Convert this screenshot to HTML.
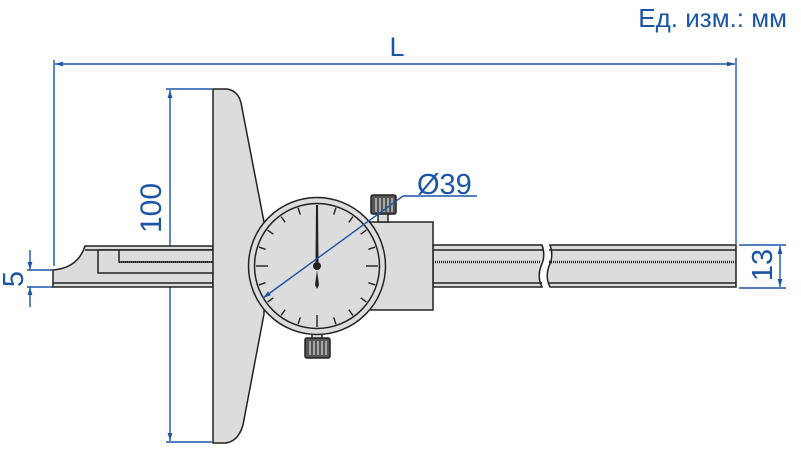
<!DOCTYPE html>
<html><head><meta charset="utf-8"><style>html,body{margin:0;padding:0;background:#fff;}svg{display:block}</style></head>
<body>
<svg width="801" height="465" viewBox="0 0 801 465" xmlns="http://www.w3.org/2000/svg" font-family="Liberation Sans, sans-serif">
<defs>
<marker id="a" viewBox="0 0 10 6" refX="10" refY="3" markerWidth="8" markerHeight="5" orient="auto-start-reverse" markerUnits="userSpaceOnUse"><path d="M0,0L10,3L0,6z" fill="#1a55a8"/></marker>
</defs>
<text x="787" y="27" text-anchor="end" font-size="26" fill="#1a55a8">Ед. изм.: мм</text>
<g stroke="#1a55a8" stroke-width="1.4" fill="none">
<line x1="54" y1="60" x2="54" y2="266"/>
<line x1="736" y1="58" x2="736" y2="244"/>
<line x1="55" y1="64" x2="735" y2="64" marker-start="url(#a)" marker-end="url(#a)"/>
<line x1="166" y1="89" x2="212" y2="89"/>
<line x1="166" y1="442" x2="212" y2="442"/>
<line x1="170" y1="90" x2="170" y2="441" marker-start="url(#a)" marker-end="url(#a)"/>
<line x1="27" y1="270" x2="53" y2="270"/>
<line x1="27" y1="287" x2="53" y2="287"/>
<line x1="30" y1="250" x2="30" y2="270" marker-end="url(#a)"/>
<line x1="30" y1="307" x2="30" y2="287" marker-end="url(#a)"/>
<line x1="739" y1="245" x2="786" y2="245"/>
<line x1="739" y1="288" x2="786" y2="288"/>
<line x1="780" y1="246" x2="780" y2="287" marker-start="url(#a)" marker-end="url(#a)"/>
</g>
<text x="397" y="56" text-anchor="middle" font-size="27" fill="#1a55a8">L</text>
<text transform="translate(161,208) rotate(-90)" text-anchor="middle" font-size="30" fill="#1a55a8">100</text>
<text transform="translate(23,279) rotate(-90)" text-anchor="middle" font-size="29" fill="#1a55a8">5</text>
<text transform="translate(772,265) rotate(-90)" text-anchor="middle" font-size="29" fill="#1a55a8">13</text>
<g stroke="#222" stroke-width="1.5" fill="#dcdcdc">
<path d="M53,270 Q78,268 85,246 L213,246 L213,287 L53,287 Z"/>
<line x1="85" y1="250" x2="213" y2="250" fill="none"/>
<line x1="53" y1="283" x2="213" y2="283" fill="none"/>
<rect x="98" y="250" width="123" height="23"/>
<rect x="119" y="250" width="102" height="12"/>
<line x1="119" y1="262" x2="213" y2="262" stroke-dasharray="1 1" stroke-width="2" fill="none"/>
<path d="M433,245 L542,245 Q546,256 541,266 Q537,277 542,287 L433,287 Z"/>
<path d="M550,245 L736,245 L736,287 L550,287 Q545,277 549,266 Q554,256 550,245 Z"/>
<g fill="none">
<line x1="433" y1="250" x2="544" y2="250"/><line x1="433" y1="283" x2="542" y2="283"/>
<line x1="549" y1="250" x2="736" y2="250"/><line x1="549" y1="283" x2="736" y2="283"/>
<line x1="433" y1="262" x2="541" y2="262" stroke-dasharray="1 1" stroke-width="2.5"/>
<line x1="549" y1="262" x2="736" y2="262" stroke-dasharray="1 1" stroke-width="2.5"/>
</g>
<path d="M213,89 L227,89 Q240,91 242,108 L264,222 L264,314 L243,425 Q238,442 225,443 L213,443 Z"/>
<rect x="365" y="222" width="68" height="88"/>
<rect x="378" y="213" width="10" height="9"/>
<rect x="371" y="195" width="25" height="19" rx="2" fill="#555"/>
<rect x="312" y="330" width="10" height="9"/>
<rect x="305" y="338" width="25" height="20" rx="2" fill="#555"/>
</g>
<g stroke="#ddd" stroke-width="1.2">
<line x1="376" y1="198" x2="376" y2="212"/><line x1="380" y1="198" x2="380" y2="212"/><line x1="384" y1="198" x2="384" y2="212"/><line x1="388" y1="198" x2="388" y2="212"/><line x1="392" y1="198" x2="392" y2="212"/>
<line x1="310" y1="341" x2="310" y2="355"/><line x1="314" y1="341" x2="314" y2="355"/><line x1="318" y1="341" x2="318" y2="355"/><line x1="322" y1="341" x2="322" y2="355"/><line x1="326" y1="341" x2="326" y2="355"/>
</g>
<circle cx="317" cy="266" r="68.5" fill="#dcdcdc" stroke="#222" stroke-width="1.5"/>
<circle cx="317" cy="266" r="62.5" fill="#dcdcdc" stroke="#222" stroke-width="1.5"/>
<g stroke="#222" stroke-width="1.4">
<line x1="317" y1="205" x2="317" y2="217"/><line x1="317" y1="327" x2="317" y2="315"/>
<line x1="256" y1="266" x2="268" y2="266"/><line x1="378" y1="266" x2="366" y2="266"/>
<line x1="335.9" y1="207.9" x2="333.7" y2="214.6"/><line x1="298.1" y1="207.9" x2="300.3" y2="214.6"/>
<line x1="352.9" y1="216.6" x2="348.8" y2="222.3"/><line x1="281.1" y1="216.6" x2="285.2" y2="222.3"/>
<line x1="366.4" y1="230.1" x2="360.7" y2="234.2"/><line x1="267.6" y1="230.1" x2="273.3" y2="234.2"/>
<line x1="375.1" y1="247.1" x2="368.4" y2="249.3"/><line x1="258.9" y1="247.1" x2="265.6" y2="249.3"/>
<line x1="375.1" y1="284.9" x2="368.4" y2="282.7"/><line x1="258.9" y1="284.9" x2="265.6" y2="282.7"/>
<line x1="366.4" y1="301.9" x2="360.7" y2="297.8"/><line x1="267.6" y1="301.9" x2="273.3" y2="297.8"/>
<line x1="352.9" y1="315.4" x2="348.8" y2="309.7"/><line x1="281.1" y1="315.4" x2="285.2" y2="309.7"/>
<line x1="335.9" y1="324.1" x2="333.7" y2="317.4"/><line x1="298.1" y1="324.1" x2="300.3" y2="317.4"/>
</g>
<path d="M316,205 L318,205 L318.5,262 L315.5,262 Z" fill="#222"/>
<path d="M317,270 L319,285 L317,289 L315,285 Z" fill="#222"/>
<circle cx="317" cy="266" r="4" fill="#222"/>
<g stroke="#1a55a8" stroke-width="1.4" fill="none">
<line x1="403" y1="196" x2="263" y2="298" marker-end="url(#a)"/>
<line x1="403" y1="196" x2="477" y2="196"/>
</g>
<text x="417" y="194" font-size="29" fill="#1a55a8">Ø39</text>
</svg>
</body></html>
